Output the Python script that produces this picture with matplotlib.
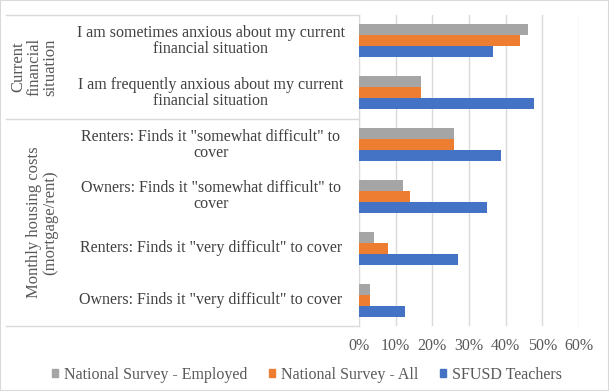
import matplotlib.pyplot as plt
from matplotlib.patches import Rectangle, Patch

# data
categories = [
    "I am sometimes anxious about my current\nfinancial situation",
    "I am frequently anxious about my current\nfinancial situation",
    'Renters: Finds it "somewhat difficult" to\ncover',
    'Owners: Finds it "somewhat difficult" to\ncover',
    'Renters: Finds it "very difficult" to cover',
    'Owners: Finds it "very difficult" to cover',
]
groups = ["Current\nfinancial\nsituation", "Monthly housing costs\n(mortgage/rent)"]
group_rows = [(0, 1), (2, 5)]
series_names = ["National Survey - Employed", "National Survey - All", "SFUSD Teachers"]
national_employed = [0.46, 0.17, 0.26, 0.12, 0.04, 0.03]
national_all = [0.44, 0.17, 0.26, 0.14, 0.08, 0.03]
sfusd_teachers = [0.365, 0.477, 0.387, 0.35, 0.27, 0.125]
xticks = [0, 0.1, 0.2, 0.3, 0.4, 0.5, 0.6]

colors = ["#a5a5a5", "#ed7d31", "#4472c4"]
grid_c = "#d9d9d9"

plt.rcParams["font.family"] = ["Liberation Serif", "DejaVu Serif"]

W, H = 609, 391
fig = plt.figure(figsize=(W / 100, H / 100), dpi=100)
ax = fig.add_axes([359 / W, 1 - 326 / H, 220 / W, 311 / H])

bh = 0.212
ys = list(range(len(categories)))
for k, vals in enumerate([national_employed, national_all, sfusd_teachers]):
    ax.barh([y + (k - 1) * bh for y in ys], vals, height=bh, color=colors[k], zorder=3)

ax.set_ylim(len(categories) - 0.5, -0.5)
ax.set_xlim(0, 0.6)
ax.set_xticks(xticks)
ax.set_xticklabels([f"{int(round(t * 100))}%" for t in xticks], fontsize=11.5, color="#595959")
ax.set_yticks([])
ax.tick_params(axis="x", length=0, pad=9)
ax.grid(axis="x", color=grid_c, linewidth=1, zorder=0)
for s in ["top", "right", "bottom"]:
    ax.spines[s].set_visible(False)
ax.spines["left"].set_color(grid_c)

# category labels and group separators
trans = ax.get_yaxis_transform()
x_lab = (211 - 359) / 220
for y, lab in zip(ys, categories):
    ax.text(x_lab, y, lab, transform=trans, ha="center", va="center",
            fontsize=11.5, color="#404040", linespacing=1.0)

x_left = (6 - 359) / 220
for yl in [-0.5, 1.5, 5.5]:
    ax.plot([x_left, 0], [yl, yl], transform=trans, color=grid_c, lw=1, clip_on=False)

for g, (a, b), xc in zip(groups, group_rows, [34, 42]):
    ax.text((xc - 359) / 220, (a + b) / 2, g, transform=trans, ha="center", va="center",
            rotation=90, fontsize=12, color="#595959", linespacing=1.0)

handles = [Patch(color=c) for c in colors]
fig.legend(handles, series_names, loc="center", bbox_to_anchor=(307 / W, 1 - 375 / H),
           ncol=3, frameon=False, fontsize=11.5, handlelength=0.4, handleheight=0.4,
           handletextpad=0.4, columnspacing=1.3, labelcolor="#595959",
           borderpad=0, borderaxespad=0)

fig.patches.append(Rectangle((0, 0), 1, 1, transform=fig.transFigure, fill=False,
                             edgecolor=grid_c, lw=1.5))

fig.savefig("out.png", dpi=100)
